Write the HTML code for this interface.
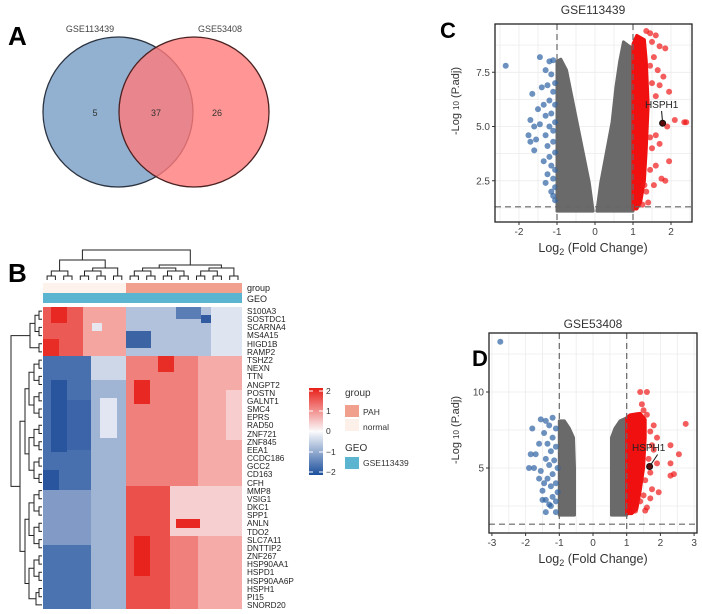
<!DOCTYPE html>
<html><head><meta charset="utf-8">
<style>
html,body{margin:0;padding:0;background:#fff;}
svg{display:block;font-family:"Liberation Sans",Arial,sans-serif;}
.b{fill:#2e62a3;fill-opacity:.7}
.r{fill:#f01818;fill-opacity:.7}
.gl{stroke:#ececec;stroke-width:.8}
.dash{stroke:#666;stroke-width:1.2;stroke-dasharray:6,4}
.dg{fill:none;stroke:#222;stroke-width:1}
.tk{font-size:10px;fill:#444}
.gn{font-size:8.2px;fill:#222}
</style></head>
<body>
<svg width="702" height="614" viewBox="0 0 702 614" xmlns="http://www.w3.org/2000/svg">
<defs>
<linearGradient id="cbgrad" x1="0" y1="0" x2="0" y2="1">
<stop offset="0" stop-color="rgb(232,30,24)"/>
<stop offset="0.25" stop-color="rgb(241,140,138)"/>
<stop offset="0.5" stop-color="rgb(250,250,252)"/>
<stop offset="0.75" stop-color="rgb(139,165,204)"/>
<stop offset="1" stop-color="rgb(28,79,156)"/>
</linearGradient>
<clipPath id="clipC"><rect x="495" y="24" width="197" height="198"/></clipPath>
<clipPath id="clipD"><rect x="489" y="333" width="208" height="200"/></clipPath>
</defs>

<g>
<text x="8" y="45" font-size="26" font-weight="bold">A</text>
<circle cx="118" cy="112" r="75" fill="#7fa3c9" fill-opacity="0.85" stroke="#2b3340" stroke-width="1.3"/>
<circle cx="194" cy="112" r="75" fill="#ff7b7b" fill-opacity="0.8" stroke="#4a2020" stroke-width="1.3"/>
<text x="90" y="32" font-size="9" fill="#444" text-anchor="middle">GSE113439</text>
<text x="220" y="32" font-size="9" fill="#444" text-anchor="middle">GSE53408</text>
<text x="95" y="116" font-size="9" fill="#333" text-anchor="middle">5</text>
<text x="156" y="116" font-size="9" fill="#333" text-anchor="middle">37</text>
<text x="217" y="116" font-size="9" fill="#333" text-anchor="middle">26</text>
</g>
<text x="8" y="282" font-size="26" font-weight="bold">B</text>
<text x="440" y="38" font-size="22" font-weight="bold">C</text>
<text x="472" y="366" font-size="22" font-weight="bold">D</text>

<g>
<g>
<!-- top 6 genes: normal red, PAH blue -->
<rect x="43" y="307" width="40" height="49" fill="rgb(236,90,85)"/>
<rect x="83" y="307" width="43" height="49" fill="rgb(244,165,160)"/>
<rect x="126" y="307" width="116" height="49" fill="rgb(178,194,220)"/>
<rect x="126" y="331" width="25" height="17" fill="rgb(60,100,165)"/>
<rect x="176" y="307" width="25" height="12" fill="rgb(90,125,182)"/>
<rect x="201" y="315" width="10" height="8" fill="rgb(50,90,160)"/>
<rect x="211" y="307" width="31" height="49" fill="rgb(222,228,240)"/>
<rect x="51" y="307" width="16" height="16" fill="rgb(232,40,34)"/>
<rect x="43" y="339" width="16" height="17" fill="rgb(232,45,38)"/>
<rect x="92" y="323" width="10" height="8" fill="rgb(232,230,238)"/>
<!-- bottom 31 genes: normal blue, PAH red -->
<rect x="43" y="356" width="48" height="253" fill="rgb(72,112,174)"/>
<rect x="91" y="356" width="35" height="253" fill="rgb(160,180,212)"/>
<rect x="126" y="356" width="72" height="253" fill="rgb(240,128,123)"/>
<rect x="198" y="356" width="44" height="253" fill="rgb(245,172,168)"/>
<rect x="51" y="380" width="16" height="72" fill="rgb(40,85,158)"/>
<rect x="67" y="400" width="24" height="50" fill="rgb(60,100,168)"/>
<rect x="43" y="470" width="16" height="20" fill="rgb(40,85,158)"/>
<rect x="100" y="398" width="17" height="40" fill="rgb(225,230,242)"/>
<rect x="91" y="356" width="35" height="24" fill="rgb(205,215,232)"/>
<rect x="43" y="490" width="48" height="55" fill="rgb(130,155,198)"/>
<rect x="43" y="545" width="48" height="64" fill="rgb(75,115,176)"/>
<rect x="126" y="486" width="44" height="123" fill="rgb(236,80,75)"/>
<rect x="170" y="486" width="72" height="50" fill="rgb(246,208,208)"/>
<rect x="134" y="380" width="16" height="24" fill="rgb(232,40,34)"/>
<rect x="158" y="356" width="16" height="16" fill="rgb(232,45,38)"/>
<rect x="134" y="536" width="16" height="40" fill="rgb(232,35,30)"/>
<rect x="176" y="519" width="24" height="9" fill="rgb(232,40,34)"/>
<rect x="226" y="390" width="16" height="50" fill="rgb(247,205,205)"/>
</g>
<g>
<rect x="43" y="283" width="83" height="10" fill="#fdf3ec"/>
<rect x="126" y="283" width="116" height="10" fill="#f0a08c"/>
<rect x="43" y="293" width="199" height="10" fill="#5bb4d0"/>
<text x="247" y="291" font-size="9" fill="#222">group</text>
<text x="247" y="302" font-size="9" fill="#222">GEO</text>
</g>
<g>
<path class="dg" d="M47.1,280V276H55.4V280M63.7,280V276H72V280M80.3,280V276H88.6V280M96.9,280V276H105.2V280M113.5,280V276H121.8V280M130.1,280V276H138.4V280M146.7,280V276H155V280M163.3,280V276H171.6V280M179.9,280V276H188.2V280M196.5,280V276H204.8V280M213.1,280V276H221.4V280M229.7,280V276H238V280"/>
<path class="dg" d="M51.3,276V271H67.9V276M84.5,276V271H101V276M92.7,271V268H117.7V276M59.6,271V260H105.2V268M134.3,276V271H150.9V276M167.5,276V271H184V276M200.7,276V271H217.3V276M142.6,271V268H175.8V271M209,271V268H233.9V276M159.2,268V265H221.4V268M82.4,260V250H190.3V265"/>
</g>
<g>
<path class="dg" d="M42,311.1H39V319.3H42M42,327.4H39V335.6H42M42,343.7H39V351.9H42M39,315.2H35V331.5H39M35,323.4H30V347.8H39"/>
<path class="dg" d="M42,360.1H39V368.2H42M42,376.4H39V384.5H42M42,392.7H39V400.9H42M42,409H39V417.2H42M42,425.3H39V433.5H42M42,441.7H39V449.8H42M42,458H39V466.1H42M42,474.3H39V482.5H42M42,490.6H39V498.8H42M42,506.9H39V515.1H42M42,523.3H39V531.4H42M42,539.6H39V547.7H42M42,555.9H39V564.1H42M42,572.2H39V580.4H42M42,588.5H39V596.7H42"/>
<path class="dg" d="M39,364.1H34V380.4H39M39,396.8H34V413.1H39M39,429.4H34V445.7H39M39,462H34V478.4H39M39,494.7H34V511H39M39,527.3H34V543.6H39M39,560H34V576.3H39M39,592.6H36V604.9H42"/>
<path class="dg" d="M34,372.3H29V405H34M34,437.6H29V470.2H34M34,502.9H29V535.5H34M34,568.2H29V598.8H36M29,388.7H25V453.9H29M29,519.2H25V583.5H29M25,421.3H20V551.4H25M30,335.6H11V486.4H20"/>
</g>
<g>
<text class="gn" x="247" y="314">S100A3</text><text class="gn" x="247" y="322">SOSTDC1</text><text class="gn" x="247" y="330">SCARNA4</text><text class="gn" x="247" y="338">MS4A15</text><text class="gn" x="247" y="347">HIGD1B</text><text class="gn" x="247" y="355">RAMP2</text><text class="gn" x="247" y="363">TSHZ2</text><text class="gn" x="247" y="371">NEXN</text><text class="gn" x="247" y="379">TTN</text><text class="gn" x="247" y="388">ANGPT2</text><text class="gn" x="247" y="396">POSTN</text><text class="gn" x="247" y="404">GALNT1</text><text class="gn" x="247" y="412">SMC4</text><text class="gn" x="247" y="420">EPRS</text><text class="gn" x="247" y="428">RAD50</text><text class="gn" x="247" y="437">ZNF721</text><text class="gn" x="247" y="445">ZNF845</text><text class="gn" x="247" y="453">EEA1</text><text class="gn" x="247" y="461">CCDC186</text><text class="gn" x="247" y="469">GCC2</text><text class="gn" x="247" y="477">CD163</text><text class="gn" x="247" y="486">CFH</text><text class="gn" x="247" y="494">MMP8</text><text class="gn" x="247" y="502">VSIG1</text><text class="gn" x="247" y="510">DKC1</text><text class="gn" x="247" y="518">SPP1</text><text class="gn" x="247" y="526">ANLN</text><text class="gn" x="247" y="535">TDO2</text><text class="gn" x="247" y="543">SLC7A11</text><text class="gn" x="247" y="551">DNTTIP2</text><text class="gn" x="247" y="559">ZNF267</text><text class="gn" x="247" y="567">HSP90AA1</text><text class="gn" x="247" y="575">HSPD1</text><text class="gn" x="247" y="584">HSP90AA6P</text><text class="gn" x="247" y="592">HSPH1</text><text class="gn" x="247" y="600">PI15</text><text class="gn" x="247" y="608">SNORD20</text>
</g>
<g>
<rect x="309" y="388" width="14" height="87" fill="url(#cbgrad)"/>
<path d="M309,391h4M319,391h4M309,411h4M319,411h4M309,431h4M319,431h4M309,452h4M319,452h4M309,472h4M319,472h4" stroke="#fff"/>
<text x="326" y="394" font-size="8.5" fill="#333">2</text>
<text x="326" y="414" font-size="8.5" fill="#333">1</text>
<text x="326" y="434" font-size="8.5" fill="#333">0</text>
<text x="326" y="455" font-size="8.5" fill="#333">−1</text>
<text x="326" y="475" font-size="8.5" fill="#333">−2</text>
<text x="345" y="396" font-size="10" fill="#333">group</text>
<rect x="345" y="405" width="14" height="12" fill="#f0a08c"/>
<text x="363" y="415" font-size="8.5" fill="#333">PAH</text>
<rect x="345" y="419" width="14" height="12" fill="#fdf0e8"/>
<text x="363" y="430" font-size="8.5" fill="#333">normal</text>
<text x="345" y="451" font-size="10" fill="#333">GEO</text>
<rect x="345" y="457" width="14" height="12" fill="#5bb4d0"/>
<text x="363" y="466" font-size="8.5" fill="#333">GSE113439</text>
</g>
</g>

<!-- Panel C -->
<g>
<g clip-path="url(#clipC)">
<path class="gl" d="M500,24V222M519,24V222M538,24V222M557,24V222M576,24V222M595,24V222M614,24V222M633,24V222M652,24V222M671,24V222M690,24V222M495,207.9H692M495,180.8H692M495,153.6H692M495,126.5H692M495,99.4H692M495,72.3H692M495,45.1H692"/>
<polygon fill="#6a6a6a" stroke="#6a6a6a" stroke-width="3" stroke-linejoin="round" points="557,211.1 557,61.4 560.8,59.2 566.5,70.1 572.2,98.3 577.9,126.5 583.6,154.7 589.3,182.9 593.1,211.1"/>
<polygon fill="#6a6a6a" stroke="#6a6a6a" stroke-width="3" stroke-linejoin="round" points="596.9,211.1 600.7,182.9 606.4,152.5 612.1,122.2 615.9,87.4 619.7,61.4 623.5,41.9 629.2,46.2 633,48.4 633,211.1"/>
<polygon fill="#f01010" stroke="#f01010" stroke-width="3" stroke-linejoin="round" points="633,209 633,44 636.8,35.4 644.4,39.7 646.3,61.4 648.2,104.8 646.3,148.2 644.4,180.8 640.6,202.5 636.8,209"/>
<g>
<circle class="b" r="3" cx="505.7" cy="65.7"/><circle class="b" r="3" cx="539.9" cy="57.1"/><circle class="b" r="3" cx="549.4" cy="61.4"/><circle class="b" r="3" cx="553.2" cy="60.3"/><circle class="b" r="3" cx="545.6" cy="70.1"/><circle class="b" r="3" cx="551.3" cy="74.4"/><circle class="b" r="3" cx="555.1" cy="83.1"/><circle class="b" r="3" cx="547.5" cy="85.3"/><circle class="b" r="3" cx="541.8" cy="87.4"/><circle class="b" r="3" cx="553.2" cy="91.8"/><circle class="b" r="3" cx="532.3" cy="93.9"/><circle class="b" r="3" cx="549.4" cy="100.5"/><circle class="b" r="3" cx="543.7" cy="104.8"/><circle class="b" r="3" cx="555.1" cy="104.8"/><circle class="b" r="3" cx="538" cy="109.1"/><circle class="b" r="3" cx="551.3" cy="113.5"/><circle class="b" r="3" cx="545.6" cy="115.7"/><circle class="b" r="3" cx="530.4" cy="120"/><circle class="b" r="3" cx="555.1" cy="122.2"/><circle class="b" r="3" cx="549.4" cy="126.5"/><circle class="b" r="3" cx="539.9" cy="124.3"/><circle class="b" r="3" cx="534.2" cy="126.5"/><circle class="b" r="3" cx="553.2" cy="130.8"/><circle class="b" r="3" cx="545.6" cy="135.2"/><circle class="b" r="3" cx="528.5" cy="135.2"/><circle class="b" r="3" cx="536.1" cy="139.5"/><circle class="b" r="3" cx="530.4" cy="141.7"/><circle class="b" r="3" cx="553.2" cy="141.7"/><circle class="b" r="3" cx="547.5" cy="146"/><circle class="b" r="3" cx="534.2" cy="150.4"/><circle class="b" r="3" cx="555.1" cy="152.5"/><circle class="b" r="3" cx="549.4" cy="156.9"/><circle class="b" r="3" cx="543.7" cy="161.2"/><circle class="b" r="3" cx="551.3" cy="165.6"/><circle class="b" r="3" cx="555.1" cy="169.9"/><circle class="b" r="3" cx="547.5" cy="174.2"/><circle class="b" r="3" cx="553.2" cy="178.6"/><circle class="b" r="3" cx="545.6" cy="182.9"/><circle class="b" r="3" cx="555.1" cy="187.3"/><circle class="b" r="3" cx="551.3" cy="191.6"/><circle class="b" r="3" cx="553.2" cy="195.9"/><circle class="b" r="3" cx="555.1" cy="200.3"/>
</g>
<g>
<circle class="r" r="3" cx="646.3" cy="31"/><circle class="r" r="3" cx="650.1" cy="33.2"/><circle class="r" r="3" cx="655.8" cy="35.4"/><circle class="r" r="3" cx="652" cy="41.9"/><circle class="r" r="3" cx="659.6" cy="46.2"/><circle class="r" r="3" cx="665.3" cy="48.4"/><circle class="r" r="3" cx="653.9" cy="57.1"/><circle class="r" r="3" cx="650.1" cy="65.7"/><circle class="r" r="3" cx="657.7" cy="70.1"/><circle class="r" r="3" cx="663.4" cy="76.6"/><circle class="r" r="3" cx="652" cy="83.1"/><circle class="r" r="3" cx="659.6" cy="85.3"/><circle class="r" r="3" cx="669.1" cy="91.8"/><circle class="r" r="3" cx="655.8" cy="96.1"/><circle class="r" r="3" cx="674.8" cy="120"/><circle class="r" r="3" cx="684.3" cy="122.2"/><circle class="r" r="3" cx="686.2" cy="122.2"/><circle class="r" r="3" cx="667.2" cy="126.5"/><circle class="r" r="3" cx="655.8" cy="135.2"/><circle class="r" r="3" cx="650.1" cy="137.4"/><circle class="r" r="3" cx="659.6" cy="143.9"/><circle class="r" r="3" cx="652" cy="148.2"/><circle class="r" r="3" cx="669.1" cy="161.2"/><circle class="r" r="3" cx="655.8" cy="165.6"/><circle class="r" r="3" cx="650.1" cy="169.9"/><circle class="r" r="3" cx="661.5" cy="178.6"/><circle class="r" r="3" cx="665.3" cy="180.8"/><circle class="r" r="3" cx="644.4" cy="185.1"/><circle class="r" r="3" cx="653.9" cy="185.1"/><circle class="r" r="3" cx="646.3" cy="191.6"/><circle class="r" r="3" cx="648.2" cy="202.5"/><circle class="r" r="3" cx="642.5" cy="204.6"/>
</g>
<path class="dash" d="M557,24V222M633,24V222M495,206.8H692"/>
<line x1="662.6" y1="123.2" x2="661.6" y2="111" stroke="#111"/>
<circle cx="662.6" cy="123.2" r="3" fill="#5a0a0a" stroke="#111"/>
<text x="645" y="108" font-size="10" fill="#222">HSPH1</text>
</g>
<rect x="495" y="24" width="197" height="198" fill="none" stroke="#222" stroke-width="1.3"/>
<path d="M519,222v3M557,222v3M595,222v3M633,222v3M671,222v3M492,180.8h3M492,126.5h3M492,72.3h3" stroke="#333"/>
<g text-anchor="middle">
<text class="tk" x="519" y="235">-2</text><text class="tk" x="557" y="235">-1</text><text class="tk" x="595" y="235">0</text><text class="tk" x="633" y="235">1</text><text class="tk" x="671" y="235">2</text>
</g>
<g text-anchor="end">
<text class="tk" x="490" y="184.3">2.5</text><text class="tk" x="490" y="130">5.0</text><text class="tk" x="490" y="75.8">7.5</text>
</g>
<text x="593" y="14" font-size="12" text-anchor="middle" fill="#333">GSE113439</text>
<text x="593" y="252" font-size="12.5" text-anchor="middle" fill="#333">Log<tspan font-size="9" dy="3">2</tspan><tspan dy="-3"> (Fold Change)</tspan></text>
<text transform="translate(459,101) rotate(-90)" font-size="11" text-anchor="middle" fill="#333">-Log <tspan font-size="8">10</tspan> (P.adj)</text>
</g>

<!-- Panel D -->
<g>
<g clip-path="url(#clipD)">
<path class="gl" d="M491.9,333V533M508.8,333V533M525.6,333V533M542.5,333V533M559.3,333V533M576.2,333V533M593,333V533M609.9,333V533M626.7,333V533M643.6,333V533M660.4,333V533M677.3,333V533M694.1,333V533M489,506H697M489,468H697M489,430H697M489,392H697M489,354H697"/>
<polygon fill="#6a6a6a" stroke="#6a6a6a" stroke-width="3" stroke-linejoin="round" points="559.3,515.1 559.3,420.9 564.4,420.9 569.4,428.5 573.5,437.6 574.5,468 574.5,515.1"/>
<polygon fill="#6a6a6a" stroke="#6a6a6a" stroke-width="3" stroke-linejoin="round" points="611.5,515.1 611.5,437.6 614.9,428.5 620,420.9 626.7,417.8 626.7,515.1"/>
<polygon fill="#f01010" stroke="#f01010" stroke-width="3" stroke-linejoin="round" points="626.7,513.6 626.7,417.8 630.1,414.8 640.2,413.3 645.2,419.4 645.2,437.6 643.6,468 640.2,490.8 636.8,509 631.8,513.6"/>
<g>
<circle class="b" r="3" cx="500.3" cy="341.8"/><circle class="b" r="3" cx="532.3" cy="428.5"/><circle class="b" r="3" cx="539.1" cy="443.7"/><circle class="b" r="3" cx="530.7" cy="454.3"/><circle class="b" r="3" cx="535.7" cy="454.3"/><circle class="b" r="3" cx="529" cy="468"/><circle class="b" r="3" cx="534" cy="468"/><circle class="b" r="3" cx="540.8" cy="471"/><circle class="b" r="3" cx="539.1" cy="478.6"/><circle class="b" r="3" cx="544.1" cy="483.2"/><circle class="b" r="3" cx="542.5" cy="490.8"/><circle class="b" r="3" cx="545.8" cy="499.9"/><circle class="b" r="3" cx="542.5" cy="499.9"/><circle class="b" r="3" cx="545.8" cy="512.1"/><circle class="b" r="3" cx="555.9" cy="512.1"/><circle class="b" r="3" cx="550.9" cy="506"/><circle class="b" r="3" cx="540.8" cy="419.4"/><circle class="b" r="3" cx="545.8" cy="420.9"/><circle class="b" r="3" cx="552.6" cy="417.8"/><circle class="b" r="3" cx="549.2" cy="425.4"/><circle class="b" r="3" cx="555.9" cy="428.5"/><circle class="b" r="3" cx="544.1" cy="433"/><circle class="b" r="3" cx="552.6" cy="437.6"/><circle class="b" r="3" cx="547.5" cy="443.7"/><circle class="b" r="3" cx="555.9" cy="446.7"/><circle class="b" r="3" cx="550.9" cy="451.3"/><circle class="b" r="3" cx="545.8" cy="458.9"/><circle class="b" r="3" cx="554.2" cy="460.4"/><circle class="b" r="3" cx="549.2" cy="465"/><circle class="b" r="3" cx="557.6" cy="468"/><circle class="b" r="3" cx="552.6" cy="474.1"/><circle class="b" r="3" cx="547.5" cy="478.6"/><circle class="b" r="3" cx="555.9" cy="483.2"/><circle class="b" r="3" cx="550.9" cy="486.2"/><circle class="b" r="3" cx="557.6" cy="492.3"/><circle class="b" r="3" cx="552.6" cy="496.9"/><circle class="b" r="3" cx="555.9" cy="501.4"/><circle class="b" r="3" cx="549.2" cy="504.5"/>
</g>
<g>
<circle class="r" r="3" cx="640.2" cy="392"/><circle class="r" r="3" cx="646.9" cy="392"/><circle class="r" r="3" cx="641.9" cy="404.2"/><circle class="r" r="3" cx="643.6" cy="410.2"/><circle class="r" r="3" cx="646.9" cy="414.8"/><circle class="r" r="3" cx="685.7" cy="423.9"/><circle class="r" r="3" cx="653.7" cy="425.4"/><circle class="r" r="3" cx="650.3" cy="431.5"/><circle class="r" r="3" cx="657" cy="437.6"/><circle class="r" r="3" cx="652" cy="445.2"/><circle class="r" r="3" cx="670.5" cy="445.2"/><circle class="r" r="3" cx="678.9" cy="454.3"/><circle class="r" r="3" cx="653.7" cy="449.8"/><circle class="r" r="3" cx="648.6" cy="458.9"/><circle class="r" r="3" cx="657" cy="463.4"/><circle class="r" r="3" cx="670.5" cy="463.4"/><circle class="r" r="3" cx="673.9" cy="474.1"/><circle class="r" r="3" cx="670.5" cy="475.6"/><circle class="r" r="3" cx="650.3" cy="472.6"/><circle class="r" r="3" cx="645.2" cy="480.2"/><circle class="r" r="3" cx="652" cy="489.3"/><circle class="r" r="3" cx="658.7" cy="492.3"/><circle class="r" r="3" cx="643.6" cy="495.4"/><circle class="r" r="3" cx="650.3" cy="498.4"/><circle class="r" r="3" cx="640.2" cy="501.4"/><circle class="r" r="3" cx="646.9" cy="507.5"/><circle class="r" r="3" cx="645.2" cy="510.6"/><circle class="r" r="3" cx="635.1" cy="510.6"/>
</g>
<path class="dash" d="M559.3,333V533M626.7,333V533M489,524.2H697"/>
<line x1="649.6" y1="466.5" x2="657.6" y2="454.5" stroke="#111"/>
<circle cx="649.6" cy="466.5" r="3" fill="#5a0a0a" stroke="#111"/>
<text x="632" y="451" font-size="10" fill="#222">HSPH1</text>
</g>
<rect x="489" y="333" width="208" height="200" fill="none" stroke="#222" stroke-width="1.3"/>
<path d="M491.9,533v3M525.6,533v3M559.3,533v3M593,533v3M626.7,533v3M660.4,533v3M694.1,533v3M486,468h3M486,392h3" stroke="#333"/>
<g text-anchor="middle">
<text class="tk" x="491.9" y="546">-3</text><text class="tk" x="525.6" y="546">-2</text><text class="tk" x="559.3" y="546">-1</text><text class="tk" x="593" y="546">0</text><text class="tk" x="626.7" y="546">1</text><text class="tk" x="660.4" y="546">2</text><text class="tk" x="694.1" y="546">3</text>
</g>
<g text-anchor="end">
<text class="tk" x="484" y="471.5">5</text><text class="tk" x="484" y="395.5">10</text>
</g>
<text x="593" y="328" font-size="12" text-anchor="middle" fill="#333">GSE53408</text>
<text x="593" y="563" font-size="12.5" text-anchor="middle" fill="#333">Log<tspan font-size="9" dy="3">2</tspan><tspan dy="-3"> (Fold Change)</tspan></text>
<text transform="translate(459,430) rotate(-90)" font-size="11" text-anchor="middle" fill="#333">-Log <tspan font-size="8">10</tspan> (P.adj)</text>
</g>
</svg>
</body></html>
